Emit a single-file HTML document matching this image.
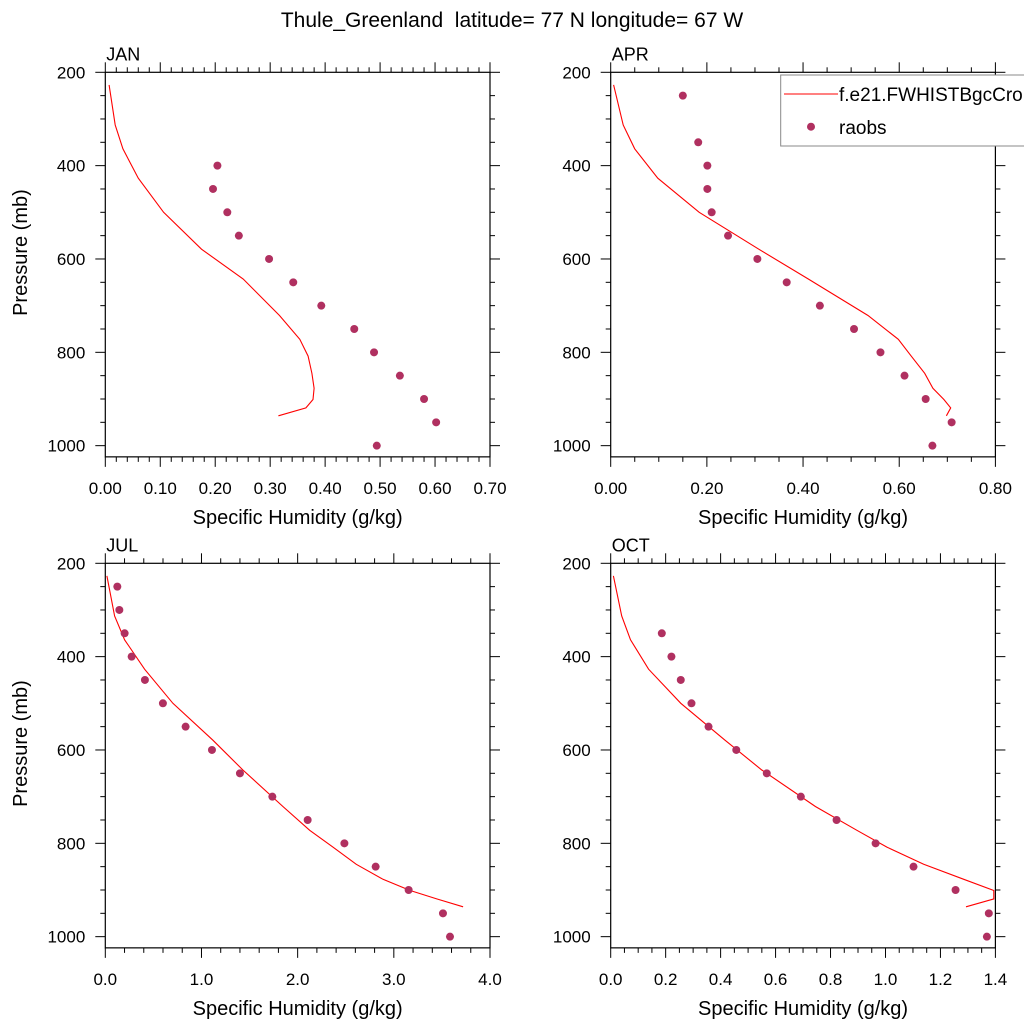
<!DOCTYPE html>
<html><head><meta charset="utf-8"><style>
body{margin:0;background:#fff}
svg{display:block;font-family:"Liberation Sans",sans-serif}
</style></head><body>
<svg id="chart" width="1024" height="1024" viewBox="0 0 1024 1024">
<text x="512" y="27" font-size="21" text-anchor="middle" style="white-space:pre">Thule_Greenland  latitude= 77 N longitude= 67 W</text>
</svg>
<script>
const modelPressure = [227,313,364,427,500,579,643,721,772,808,845,877,901,919,936];
const obsPressureJan = [400,450,500,550,600,650,700,750,800,850,900,950,1000];
const obsPressureRest = [250,300,350,400,450,500,550,600,650,700,750,800,850,900,950,1000];
const modelJan = [0.007,0.018,0.032,0.060,0.106,0.175,0.251,0.317,0.354,0.369,0.376,0.380,0.378,0.365,0.315];
const obsJan = [0.204,0.196,0.222,0.243,0.298,0.342,0.393,0.453,0.489,0.536,0.580,0.602,0.494];
const modelApr = [0.006,0.026,0.050,0.098,0.184,0.308,0.411,0.535,0.598,0.625,0.653,0.670,0.693,0.707,0.698];
const obsApr = [0.150,null,0.182,0.201,0.201,0.210,0.244,0.305,0.366,0.435,0.506,0.561,0.611,0.655,0.709,0.669];
const modelJul = [0.017,0.097,0.201,0.409,0.703,1.119,1.431,1.847,2.125,2.367,2.610,2.887,3.170,3.446,3.720];
const obsJul = [0.125,0.146,0.201,0.274,0.412,0.599,0.835,1.109,1.400,1.737,2.104,2.486,2.811,3.154,3.511,3.584];
const modelOct = [0.010,0.040,0.072,0.138,0.255,0.416,0.550,0.745,0.896,1.005,1.139,1.285,1.394,1.394,1.293];
const obsOct = [null,null,0.186,0.221,0.255,0.294,0.356,0.457,0.568,0.692,0.822,0.964,1.102,1.255,1.376,1.369];
const xTicksJan = ["0.00","0.10","0.20","0.30","0.40","0.50","0.60","0.70"];
const xTicksApr = ["0.00","0.20","0.40","0.60","0.80"];
const xTicksJul = ["0.0","1.0","2.0","3.0","4.0"];
const xTicksOct = ["0.0","0.2","0.4","0.6","0.8","1.0","1.2","1.4"];
const yTicks = [200,400,600,800,1000];

const NS='http://www.w3.org/2000/svg';
const svg=document.getElementById('chart');
function mk(tag,attrs,parent){const e=document.createElementNS(NS,tag);for(const k in attrs)e.setAttribute(k,attrs[k]);(parent||svg).appendChild(e);return e;}

const panels=[
 {name:'jan',label:'JAN',x0:105.3,y0:72.3,xmax:0.7,major:0.1,minor:0.02,ticks:xTicksJan,model:modelJan,obs:obsJan,obsP:obsPressureJan,ylab:true},
 {name:'apr',label:'APR',x0:610.7,y0:72.3,xmax:0.8,major:0.2,minor:0.05,ticks:xTicksApr,model:modelApr,obs:obsApr,obsP:obsPressureRest,ylab:false,legend:true},
 {name:'jul',label:'JUL',x0:105.3,y0:563.3,xmax:4.0,major:1.0,minor:0.2,ticks:xTicksJul,model:modelJul,obs:obsJul,obsP:obsPressureRest,ylab:true},
 {name:'oct',label:'OCT',x0:610.7,y0:563.3,xmax:1.4,major:0.2,minor:0.05,ticks:xTicksOct,model:modelOct,obs:obsOct,obsP:obsPressureRest,ylab:false}
];
const W=384.7, PPM=0.4667, PMIN=200, PMAX=1024;
const H=(PMAX-PMIN)*PPM;

panels.forEach(p=>{
 const g=mk('g',{});
 
 
 const sx=v=>p.x0+v/p.xmax*W;
 const sy=pr=>p.y0+(pr-PMIN)*PPM;
 const lbl=mk('text',{x:p.x0+1,y:p.y0-12,'font-size':18},g);lbl.textContent=p.label;
 
 
 const fr=mk('rect',{x:p.x0,y:p.y0,width:W,height:H,fill:'none',stroke:'#000','stroke-width':1.2},g);
 
 
 const nmin=Math.round(p.xmax/p.minor);
 const ratio=Math.round(p.major/p.minor);
 for(let i=0;i<=nmin;i++){
  const x=sx(i*p.minor);const maj=i%ratio===0;const L=maj?10:5;
  mk('line',{x1:x,y1:p.y0,x2:x,y2:p.y0-L,stroke:'#000','stroke-width':1},g);
  mk('line',{x1:x,y1:p.y0+H,x2:x,y2:p.y0+H+L,stroke:'#000','stroke-width':1},g);
 }
 p.ticks.forEach((t,i)=>{
  const tx=mk('text',{x:sx(i*p.major),y:p.y0+H+37,'font-size':17,'text-anchor':'middle'},g);tx.textContent=t;
  
  
 });
 for(let pr=PMIN;pr<=1000;pr+=50){
  const y=sy(pr);const maj=pr%200===0;const L=maj?10:5;
  mk('line',{x1:p.x0,y1:y,x2:p.x0-L,y2:y,stroke:'#000','stroke-width':1},g);
  mk('line',{x1:p.x0+W,y1:y,x2:p.x0+W+L,y2:y,stroke:'#000','stroke-width':1},g);
 }
 yTicks.forEach(v=>{
  const tx=mk('text',{x:p.x0-20,y:sy(v)+6,'font-size':17,'text-anchor':'end'},g);tx.textContent=v;
  
  
 });
 const xt=mk('text',{x:p.x0+W/2,y:p.y0+H+67,'font-size':20,'text-anchor':'middle'},g);xt.textContent='Specific Humidity (g/kg)';
 
 
 if(p.ylab){
  const cy=p.y0+H/2-12;
  const yt=mk('text',{x:27,y:cy,'font-size':20,'text-anchor':'middle',transform:'rotate(-90 27 '+cy+')'},g);yt.textContent='Pressure (mb)';
  
  
 }
 const pts=p.model.map((v,i)=>sx(v).toFixed(1)+','+sy(modelPressure[i]).toFixed(1)).join(' ');
 const pl=mk('polyline',{points:pts,fill:'none',stroke:'#ff0000','stroke-width':1.1},g);
 
 
 p.obs.forEach((v,i)=>{
  if(v===null)return;
  const c=mk('circle',{cx:sx(v),cy:sy(p.obsP[i]),r:4,fill:'#b03060'},g);
  
  
 });
 if(p.legend){
  const lg=mk('g',{},g);
  
  
  mk('rect',{x:780.7,y:75,width:260,height:71,fill:'#fff',stroke:'#888','stroke-width':1},lg);
  const ll=mk('line',{x1:784,y1:94,x2:838,y2:94,stroke:'#ff0000','stroke-width':1.1},lg);
  
  
  const t1=mk('text',{x:839,y:101,'font-size':19},lg);t1.textContent='f.e21.FWHISTBgcCrop';
  
  
  const ld=mk('circle',{cx:811,cy:126.7,r:4,fill:'#b03060'},lg);
  
  
  const t2=mk('text',{x:839,y:134,'font-size':19},lg);t2.textContent='raobs';
  
  
 }
});
</script>
</body></html>
